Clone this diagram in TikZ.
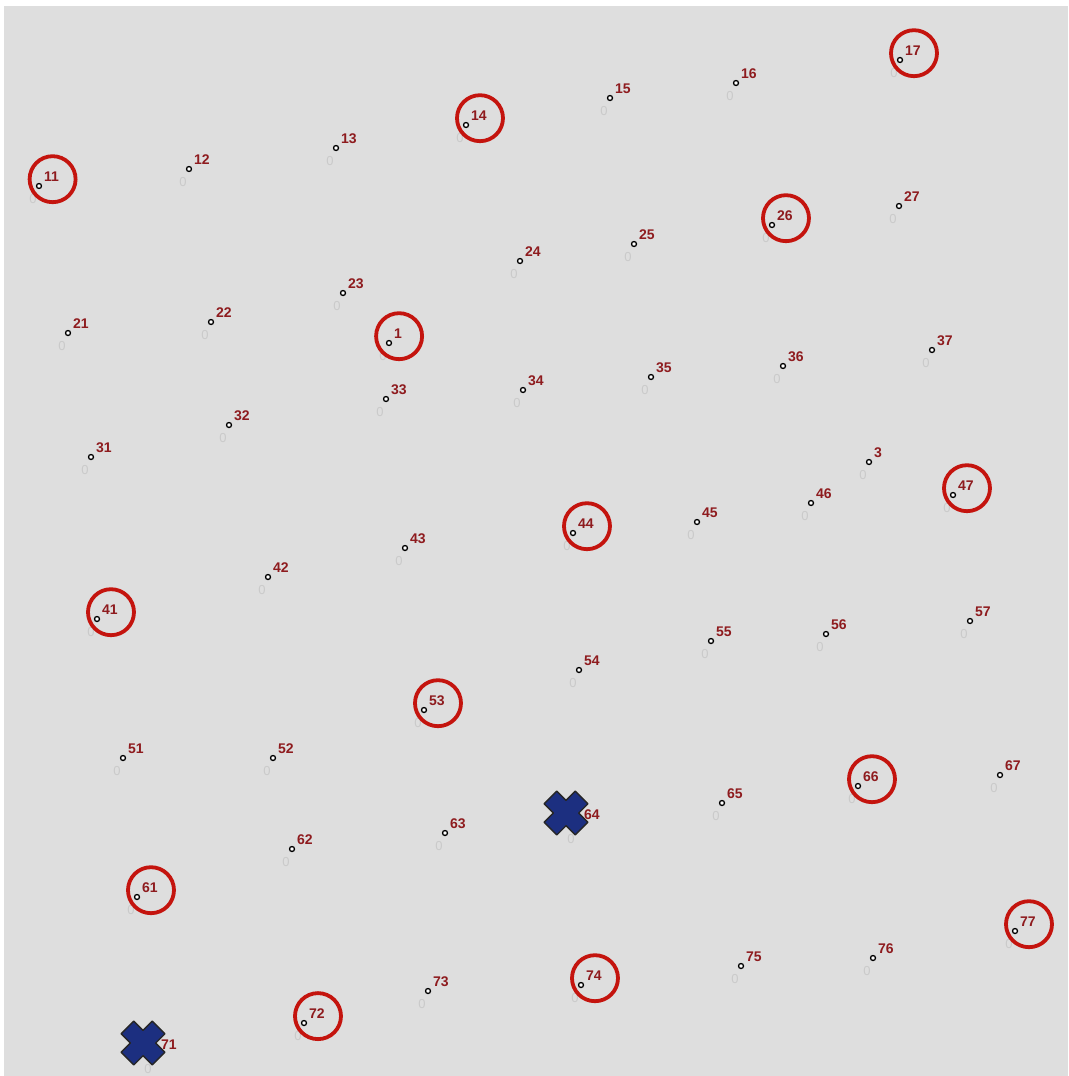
\documentclass[tikz,border=0pt]{standalone}
\usepackage{fontspec}
\setmainfont{Liberation Sans}
\usetikzlibrary{calc}
\definecolor{Field}{HTML}{DEDEDE}
\definecolor{Tag}{HTML}{8E1B1E}
\definecolor{Ring}{HTML}{C4140E}
\definecolor{Ghost}{HTML}{CACACA}
\definecolor{Navy}{HTML}{1C2F80}
\tikzset{
  sitedot/.style={circle,draw=black,fill=white,line width=1.3pt,inner sep=0pt,minimum size=5pt},
  sitetag/.style={anchor=base west,inner sep=0pt,text=Tag,font=\fontsize{14}{16}\selectfont\bfseries},
  ghost/.style={inner sep=0pt,text=Ghost,font=\fontsize{13}{15}\selectfont},
  ring/.style={draw=Ring,line width=3.8pt},
  xmark/.pic={
    \filldraw[fill=Navy,draw=black!85,line width=1.4pt,line join=round,rotate=45]
      (-9,-22) -- (9,-22) -- (9,-9) -- (22,-9) -- (22,9) -- (9,9) -- (9,22)
      -- (-9,22) -- (-9,9) -- (-22,9) -- (-22,-9) -- (-9,-9) -- cycle;
  },
}

\begin{document}
\begin{tikzpicture}[x=1pt,y=-1pt]
    \useasboundingbox (0,0) rectangle (1068,1076);
    \fill[white] (0,0) rectangle (1068,1076);
    \fill[Field] (4,6) rectangle (1068,1076);

    % sampling sites
    \foreach \n/\x/\y in {11/39/186,12/189/169,13/336/148,14/466/125,15/610/98,16/736/83,17/900/60,
      21/68/333,22/211/322,23/343/293,1/389/343,24/520/261,25/634/244,26/772/225,27/899/206,
      31/91/457,32/229/425,33/386/399,34/523/390,35/651/377,36/783/366,37/932/350,
      3/869/462,41/97/619,42/268/577,43/405/548,44/573/533,45/697/522,46/811/503,47/953/495,
      51/123/758,52/273/758,53/424/710,54/579/670,55/711/641,56/826/634,57/970/621,
      61/137/897,62/292/849,63/445/833,65/722/803,66/858/786,67/1000/775,
      72/304/1023,73/428/991,74/581/985,75/741/966,76/873/958,77/1015/931}{
      \node[ghost] (g\n) at ($(\x,\y)+(-6,13)$) {0};
      \node[sitedot] (p\n) at (\x,\y) {};
      \node[sitetag] (t\n) at ($(p\n)+(5,-5)$) {\n};
    }

    % selected sites
    \foreach \n in {11,14,17,1,26,41,44,47,53,61,66,72,74,77}
      \draw[ring] ($(t\n.center)+(1,3)$) circle[radius=23];

    % missing sites
    \foreach \n/\x/\y in {64/566/813,71/143/1043}{
      \node[ghost] (g\n) at ($(\x,\y)+(5,26)$) {0};
      \coordinate (p\n) at (\x,\y);
      \pic at (p\n) {xmark};
      \node[sitetag,anchor=west] (t\n) at ($(p\n)+(18,2)$) {\n};
    }
\end{tikzpicture}
\end{document}
